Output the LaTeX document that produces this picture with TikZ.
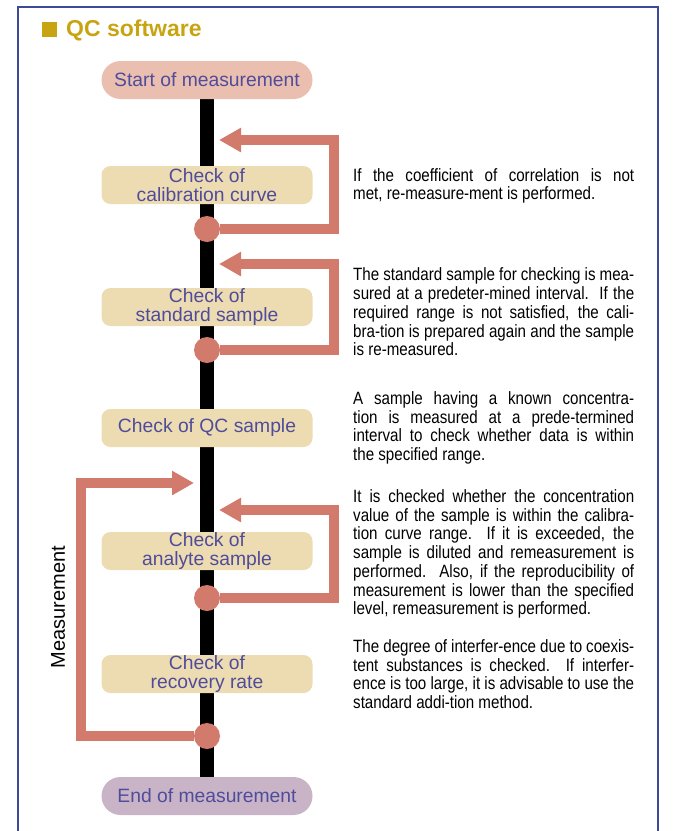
\documentclass[tikz,border=0pt]{standalone}
\usepackage{fontspec}
\setmainfont{Liberation Sans}
\newfontfamily\narrowfont{Liberation Sans}[FakeStretch=0.85]
\usetikzlibrary{arrows.meta,backgrounds}
\definecolor{frameblue}{HTML}{3C4A97}
\definecolor{qcgold}{HTML}{C9A412}
\definecolor{startpink}{HTML}{EBBFB0}
\definecolor{checktan}{HTML}{EDDCB2}
\definecolor{endmauve}{HTML}{C9B4C7}
\definecolor{labelblue}{HTML}{4F4C9B}
\definecolor{loopred}{HTML}{D27A6B}
\newcommand{\nobreaks}{\hyphenpenalty=10000\relax\exhyphenpenalty=10000\relax}

\begin{document}
\begin{tikzpicture}[x=1pt,y=-1pt]
\tikzset{
  StepStyle/.style = {rectangle, rounded corners=9pt, fill=checktan,
                      text=labelblue, minimum width=211pt, minimum height=38pt,
                      inner sep=0pt, align=center,
                      font=\fontsize{19.3}{18.5}\selectfont},
  EndStyle/.style  = {StepStyle, rounded corners=19pt},
  Spine/.style     = {line width=14pt},
  Back/.style      = {loopred, line width=10pt,
                      -{Triangle[length=22pt,width=23pt]}},
  Dot/.style       = {circle, fill=loopred, minimum size=26pt, inner sep=0pt},
  Note/.style      = {anchor=west, inner sep=0pt, text width=281pt,
                      align=justify, font=\narrowfont\fontsize{17.8}{18.7}\selectfont\nobreaks},
}
\useasboundingbox (0,0) rectangle (677,831);

  % frame
  \draw[frameblue, line width=2pt] (18,831) -- (18,7) -- (658,7) -- (658,831);

  \node[fill=qcgold, minimum size=15pt, inner sep=0pt, anchor=south west]
    (qcbox) at (42,37) {};
  \node[anchor=base west, inner sep=0pt, text=qcgold,
        font=\bfseries\fontsize{23}{23}\selectfont] (title) at (66,36) {QC software};

  % steps
  \node[EndStyle, fill=startpink] (start) at (207,80) {Start of measurement};
  \node[StepStyle] (calib)    at (207,185) {Check of\\calibration curve};
  \node[StepStyle] (standard) at (207,307) {Check of\\standard sample};
  \node[StepStyle] (qcs)      at (207,428) {Check of QC sample};
  \node[StepStyle] (analyte)  at (207,551) {Check of\\analyte sample};
  \node[StepStyle] (recovery) at (207,674) {Check of\\recovery rate};
  \node[EndStyle, fill=endmauve] (end) at (207,796) {End of measurement};

  \begin{scope}[on background layer]
    \draw[Spine] (start) -- (end);
  \end{scope}

  % re-measurement loops
  \node[Dot] (c1) at (207,229) {};
  \node[Dot] (c2) at (207,350) {};
  \node[Dot] (c3) at (207,598) {};
  \node[Dot] (c4) at (207,736) {};

  \coordinate (k1) at (334,140); \coordinate (t1) at (219,140);
  \coordinate (k2) at (334,264); \coordinate (t2) at (219,264);
  \coordinate (k3) at (334,510); \coordinate (t3) at (219,510);
  \coordinate (k4) at (81,483);  \coordinate (t4) at (194,483);

  \draw[Back] (c1) -| (k1) -- (t1);
  \draw[Back] (c2) -| (k2) -- (t2);
  \draw[Back] (c3) -| (k3) -- (t3);
  \draw[Back] (c4) -| (k4) -- (t4);

  \node[rotate=90, font=\fontsize{20}{20}\selectfont] (meas) at (58,607) {Measurement};

  % notes
  \node[Note, font=\narrowfont\fontsize{17.8}{18.5}\selectfont\nobreaks] (n1) at (353,186)
    {If the coefficient of correlation is not\linebreak
     met, re-measure-ment is performed.};
  \node[Note] (n2) at (353,312)
    {The standard sample for checking is mea-\linebreak
     sured at a predeter-mined interval.\ \ If the\linebreak
     required range is not satisfied, the cali-\linebreak
     bra-tion is prepared again and the sample\linebreak
     is re-measured.};
  \node[Note] (n3) at (353,428)
    {A sample having a known concentra-\linebreak
     tion is measured at a prede-termined\linebreak
     interval to check whether data is within\linebreak
     the specified range.};
  \node[Note] (n4) at (353,554)
    {It is checked whether the concentration\linebreak
     value of the sample is within the calibra-\linebreak
     tion curve range.\ \ If it is exceeded, the\linebreak
     sample is diluted and remeasurement is\linebreak
     performed.\ \ Also, if the reproducibility of\linebreak
     measurement is lower than the specified\linebreak
     level, remeasurement is performed.};
  \node[Note] (n5) at (353,674)
    {The degree of interfer-ence due to coexis-\linebreak
     tent substances is checked.\ \ If interfer-\linebreak
     ence is too large, it is advisable to use the\linebreak
     standard addi-tion method.};

\end{tikzpicture}
\end{document}
